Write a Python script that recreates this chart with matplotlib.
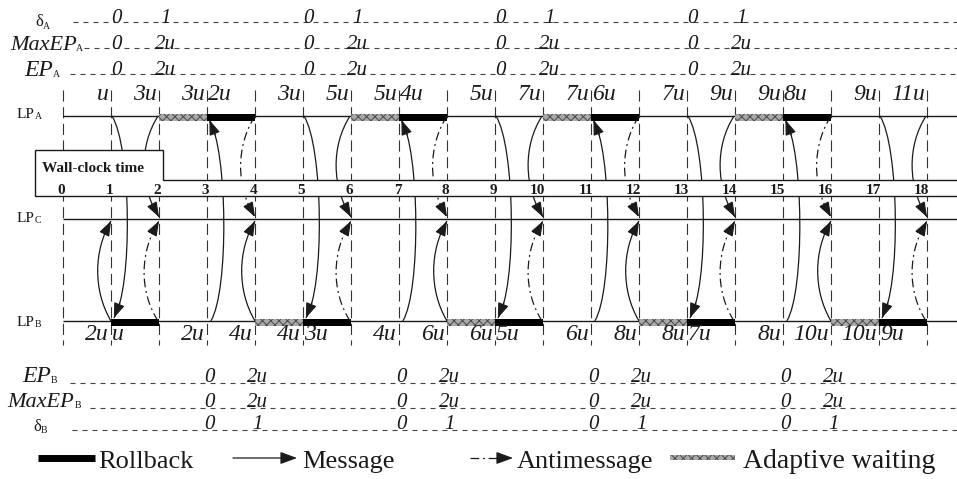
import matplotlib.pyplot as plt
from matplotlib.path import Path
from matplotlib.patches import PathPatch, FancyArrowPatch, Polygon

plt.rcParams['hatch.color'] = '#4a4a4a'
plt.rcParams['hatch.linewidth'] = 0.7

SERIF = 'Liberation Serif'
ink = '#1a1a1a'
hatch_face = '#a8a8a8'

# wall-clock ticks
clock_ticks = list(range(19))

# rollback / adaptive waiting intervals (start, duration)
a_waiting = [(2, 1), (6, 1), (10, 1), (14, 1)]
a_rollback = [(3, 1), (7, 1), (11, 1), (15, 1)]
b_rollback = [(1, 1), (5, 1), (9, 1), (13, 1), (17, 1)]
b_waiting = [(4, 1), (8, 1), (12, 1), (16, 1)]

# send times of messages / antimessages
a_to_b = [1, 5, 9, 13, 17]
b_to_a = [3, 7, 11, 15]
a_to_c = [2, 6, 10, 14, 18]
anti_a_to_c = [4, 8, 12, 16]
b_to_c = [1, 4, 8, 12, 16]
anti_b_to_c = [2, 6, 10, 14, 18]

# simulation-time labels: (clock, left of line, right of line)
a_labels = [(1, 'u', ''), (2, '3u', ''), (3, '3u', '2u'), (5, '3u', ''),
            (6, '5u', ''), (7, '5u', '4u'), (9, '5u', ''), (10, '7u', ''),
            (11, '7u', '6u'), (13, '7u', ''), (14, '9u', ''), (15, '9u', '8u'),
            (17, '9u', ''), (18, '11u', '')]
b_labels = [(1, '2u', 'u'), (3, '2u', ''), (4, '4u', ''), (5, '4u', '3u'),
            (7, '4u', ''), (8, '6u', ''), (9, '6u', '5u'), (11, '6u', ''),
            (12, '8u', ''), (13, '8u', '7u'), (15, '8u', ''), (16, '10u', ''),
            (17, '10u', '9u')]

# state variables
a_state_times = [1, 5, 9, 13]
delta_a = ['0', '1']
maxep_a = ['0', '2u']
ep_a = ['0', '2u']
b_state_times = [3, 7, 11, 15]
ep_b = ['0', '2u']
maxep_b = ['0', '2u']
delta_b = ['0', '1']

fig = plt.figure(figsize=(9.57, 4.79), dpi=100)
ax = fig.add_axes([0, 0, 1, 1])
X0, U = 63, 48
ax.set_xlim(-X0 / U, (957 - X0) / U)
ax.set_ylim(479, 0)
ax.axis('off')


def tx(p):
    # pixel column -> clock time
    return (p - X0) / U


Y_A, Y_C, Y_B = 116, 219, 321
RIGHT = tx(957) + 0.5

# process lines and clock grid
for y in (Y_A, Y_C, Y_B):
    ax.hlines(y, 0, RIGHT, color=ink, lw=1.0, zorder=2)
ax.vlines(clock_ticks, 90, 345, color='#333333', lw=0.8,
          linestyles=[(0, (10, 5))], zorder=1)

# rollback and waiting bars
ax.broken_barh(a_waiting, (114, 7), facecolors=hatch_face, edgecolor='#4a4a4a',
               hatch='xxxx', linewidth=0, zorder=3)
ax.broken_barh(a_rollback, (114, 7), facecolors='black', zorder=3)
ax.broken_barh(b_waiting, (319, 7), facecolors=hatch_face, edgecolor='#4a4a4a',
               hatch='xxxx', linewidth=0, zorder=3)
ax.broken_barh(b_rollback, (319, 7), facecolors='black', zorder=3)

ANTI = (0, (7, 3, 1.5, 3))
HEAD = '-|>,head_length=0.6,head_width=0.22'


def cubic(v, s):
    a = (1 - s) ** 3
    b = 3 * (1 - s) ** 2 * s
    c = 3 * (1 - s) * s ** 2
    d = s ** 3
    return (a * v[0][0] + b * v[1][0] + c * v[2][0] + d * v[3][0],
            a * v[0][1] + b * v[1][1] + c * v[2][1] + d * v[3][1])


def msg(t1, y1, t2, y2, dx, anti=False):
    k = 30 if y2 > y1 else -30
    v = [(t1, y1), (t1 + dx, y1 + k), (t2 + dx, y2 - k), (t2, y2)]
    ax.add_patch(PathPatch(Path(v, [Path.MOVETO, Path.CURVE4, Path.CURVE4, Path.CURVE4]),
                           fill=False, lw=0.9, ls=ANTI if anti else '-', ec=ink, zorder=4))
    ax.add_patch(FancyArrowPatch(cubic(v, 0.88), (t2, y2), arrowstyle=HEAD,
                                 mutation_scale=15, lw=0.9, color=ink,
                                 shrinkA=0, shrinkB=0, zorder=4))


for t in a_to_b:
    msg(t + 0.02, Y_A, t + 0.06, Y_B - 3, 0.4)
for t in b_to_a:
    msg(t + 0.08, Y_B, t + 0.05, Y_A + 4, 0.38)
for t in a_to_c:
    msg(t - 0.02, Y_A, t, Y_C - 2, -0.4)
for t in anti_a_to_c:
    msg(t, Y_A, t, Y_C - 2, -0.4, anti=True)
for t in b_to_c:
    msg(t, Y_B, t, Y_C + 2, -0.37)
for t in anti_b_to_c:
    msg(t - 0.02, Y_B, t, Y_C + 2, -0.4, anti=True)

# wall-clock box
ax.add_patch(Polygon([(tx(35), 150), (tx(163), 150), (tx(163), 180), (RIGHT, 180),
                      (RIGHT, 196), (tx(35), 196)], closed=True,
                     fc='white', ec=ink, lw=1.0, zorder=5))
ax.text(tx(42), 172, 'Wall-clock time', fontsize=11, weight='bold', family=SERIF,
        color=ink, va='baseline', zorder=6)
for t in clock_ticks:
    ax.text(t + 0.05, 194, str(t), fontsize=11, weight='bold', family=SERIF,
            color=ink, ha='right', va='baseline', zorder=6)


def it(x, y, s, ha='center', size=17):
    ax.text(x, y, s, ha=ha, va='baseline', fontsize=size, family=SERIF,
            style='italic', color=ink, zorder=6)


for t, l, r in a_labels:
    it(t - 0.04, 100, l, ha='right')
    if r:
        it(t + 0.02, 100, r, ha='left')
for t, l, r in b_labels:
    it(t - 0.04, 340, l, ha='right')
    if r:
        it(t + 0.02, 340, r, ha='left')

# state rows
row_dash = [(0, (4.5, 4.5))]
top_rows = [(delta_a, 23, 73), (maxep_a, 49, 84), (ep_a, 75, 70)]
for vals, y, x_start in top_rows:
    ax.hlines(y - 1, tx(x_start), RIGHT, color='#444444', lw=0.8, linestyles=row_dash, zorder=1)
    for t in a_state_times:
        it(t + 0.12, y, vals[0], size=15)
        it(t + 1.13, y, vals[1], size=15)
bottom_rows = [(ep_b, 382, 70), (maxep_b, 407, 90), (delta_b, 429, 72)]
for vals, y, x_start in bottom_rows:
    ax.hlines(y + 1, tx(x_start), RIGHT, color='#444444', lw=0.8, linestyles=row_dash, zorder=1)
    for t in b_state_times:
        it(t + 0.05, y, vals[0], size=15)
        it(t + 1.05, y, vals[1], size=15)

renderer = fig.canvas.get_renderer()


def name(xp, y, main, sub, size, italic, sub_size=7, sub_dy=1, gap=1):
    t = ax.text(tx(xp), y, main, fontsize=size, family=SERIF, color=ink, va='baseline',
                style='italic' if italic else 'normal')
    right = t.get_window_extent(renderer).x1
    ax.text(tx(right + gap), y + sub_dy, sub, fontsize=sub_size, family=SERIF,
            color=ink, va='baseline')


name(35, 26, '\u03b4', 'A', 12, False, sub_dy=3, gap=0)
name(10, 50, 'MaxEP', 'A', 16, True, gap=-1)
name(24, 76, 'EP', 'A', 17, True, gap=0)
name(22, 382, 'EP', 'B', 17, True, gap=0)
name(7, 407, 'MaxEP', 'B', 16, True, gap=1)
name(33, 431, '\u03b4', 'B', 12, False, sub_dy=2, gap=0)
name(17, 118, 'LP', 'A', 11, False, sub_dy=1, gap=0)
name(17, 222, 'LP', 'C', 11, False, sub_dy=1, gap=0)
name(17, 326, 'LP', 'B', 11, False, sub_dy=1, gap=0)

# legend
LY = 458
ax.hlines(LY, tx(38), tx(95), color='black', lw=5)
ax.text(tx(98), 468, 'Rollback', fontsize=19, family=SERIF, color=ink, va='baseline')
ax.add_patch(FancyArrowPatch((tx(233), LY), (tx(297), LY), arrowstyle=HEAD,
                             mutation_scale=17, lw=0.9, color=ink, shrinkA=0, shrinkB=0))
ax.text(tx(302), 468, 'Message', fontsize=19, family=SERIF, color=ink, va='baseline')
ax.plot([tx(470), tx(500)], [LY, LY], color=ink, lw=0.9, ls=ANTI)
ax.add_patch(FancyArrowPatch((tx(497), LY), (tx(513), LY), arrowstyle=HEAD,
                             mutation_scale=17, lw=0.9, color=ink, shrinkA=0, shrinkB=0))
ax.text(tx(517), 468, 'Antimessage', fontsize=19, family=SERIF, color=ink, va='baseline')
ax.broken_barh([(tx(670), tx(735) - tx(670))], (455, 5), facecolors=hatch_face,
               edgecolor='#4a4a4a', hatch='xxxx', linewidth=0)
ax.text(tx(743), 468, 'Adaptive waiting', fontsize=20, family=SERIF, color=ink, va='baseline')

fig.savefig('out.png', dpi=100)
